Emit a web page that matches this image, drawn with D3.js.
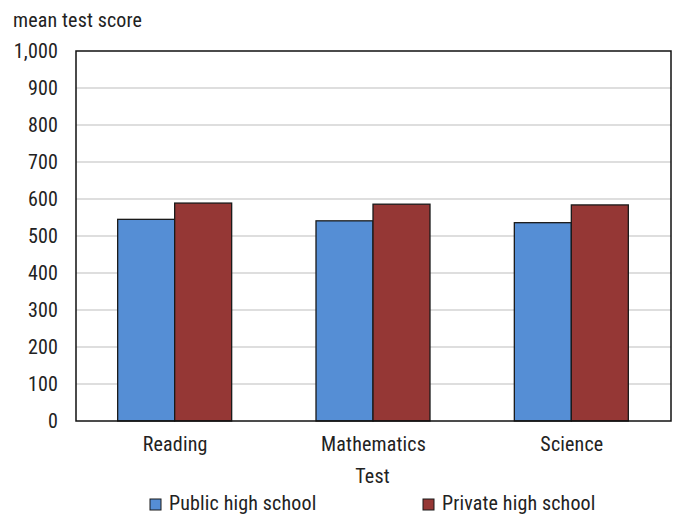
<!DOCTYPE html>
<html><head><meta charset="utf-8">
<script src="https://cdn.jsdelivr.net/npm/d3@7"></script>
<style>
body{margin:0;background:#fff;}
text{font-family:"Roboto Condensed",Roboto,"Liberation Sans",sans-serif;fill:#222;letter-spacing:0.15px;}
</style></head><body>
<svg id="chart" width="673" height="515"></svg>
<script>
const categories = ["Reading", "Mathematics", "Science"];
const seriesNames = ["Public high school", "Private high school"];
const publicValues = [545, 541, 536];
const privateValues = [589, 586, 584];
const yTicks = [0, 100, 200, 300, 400, 500, 600, 700, 800, 900, 1000];
const colors = ["#558ed5", "#953735"];

const svg = d3.select("#chart");
const m = {left: 76, right: 671, top: 51, bottom: 421};
const x = d3.scaleBand().domain(categories).range([m.left, m.right]).paddingInner(0).paddingOuter(0);
const y = d3.scaleLinear().domain([0, 1000]).range([m.bottom, m.top]);
const barW = 57;
const fs = 20;

// gridlines
svg.append("g").selectAll("line").data(yTicks.filter(d => d > 0 && d < 1000)).join("line")
  .attr("x1", m.left).attr("x2", m.right)
  .attr("y1", d => y(d)).attr("y2", d => y(d))
  .attr("stroke", "#bdbdbd").attr("stroke-width", 1.2);

// bars
const data = categories.map((c, i) => ({c, vals: [publicValues[i], privateValues[i]]}));
const g = svg.append("g");
data.forEach(d => {
  const cx = x(d.c) + x.bandwidth() / 2 - 0.5;
  d.vals.forEach((v, j) => {
    g.append("rect")
      .attr("x", cx - barW + j * barW)
      .attr("y", y(v))
      .attr("width", barW)
      .attr("height", y(0) - y(v))
      .attr("fill", colors[j])
      .attr("stroke", "#1a1a1a").attr("stroke-width", 1.3);
  });
});

// frame
svg.append("rect").attr("x", m.left).attr("y", m.top)
  .attr("width", m.right - m.left).attr("height", m.bottom - m.top)
  .attr("fill", "none").attr("stroke", "#111").attr("stroke-width", 1.5);

// y axis
const yAxis = d3.axisLeft(y).tickValues(yTicks).tickSize(0).tickPadding(18)
  .tickFormat(d3.format(","));
const ya = svg.append("g").attr("transform", `translate(${m.left},0)`).call(yAxis);
ya.select(".domain").remove();
ya.selectAll("text").attr("font-size", fs).attr("font-family", null).attr("fill", "#222");

// x axis
const xAxis = d3.axisBottom(x).tickSize(0).tickPadding(16);
const xa = svg.append("g").attr("transform", `translate(0,${m.bottom})`).call(xAxis);
xa.select(".domain").remove();
xa.selectAll("text").attr("font-size", fs).attr("font-family", null).attr("fill", "#222");

// titles
svg.append("text").attr("x", 13).attr("y", 27).attr("font-size", fs).text("mean test score");
svg.append("text").attr("x", (m.left + m.right) / 2 - 1).attr("y", 483).attr("text-anchor", "middle")
  .attr("font-size", fs).text("Test");

// legend
const legX = [150, 423];
seriesNames.forEach((s, i) => {
  svg.append("rect").attr("x", legX[i]).attr("y", 499).attr("width", 11).attr("height", 11)
    .attr("fill", colors[i]).attr("stroke", "#1a1a1a").attr("stroke-width", 1);
  svg.append("text").attr("x", legX[i] + 19).attr("y", 510).attr("font-size", fs).text(s);
});
</script>
</body></html>
